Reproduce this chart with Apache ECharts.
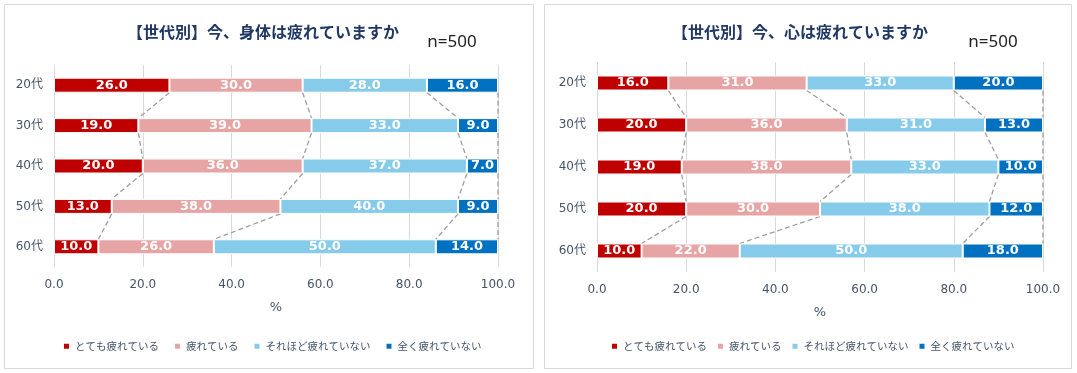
<!DOCTYPE html>
<html>
<head>
<meta charset="utf-8">
<script src="https://cdn.jsdelivr.net/npm/echarts@6/dist/echarts.min.js"></script>
<style>
html,body{margin:0;padding:0;background:#fff;}
#chart{width:1077px;height:373px;}
</style>
</head>
<body>
<div id="chart"></div>
<script>
// ---- data ----
var categories = ['20代', '30代', '40代', '50代', '60代'];
var seriesNames = ['とても疲れている', '疲れている', 'それほど疲れていない', '全く疲れていない'];

var bodyVeryTired = [26, 19, 20, 13, 10];
var bodyTired = [30, 39, 36, 38, 26];
var bodyNotSo = [28, 33, 37, 40, 50];
var bodyNotAtAll = [16, 9, 7, 9, 14];

var mindVeryTired = [16, 20, 19, 20, 10];
var mindTired = [31, 36, 38, 30, 22];
var mindNotSo = [33, 31, 33, 38, 50];
var mindNotAtAll = [20, 13, 10, 12, 18];

var titleBody = '【世代別】今、身体は疲れていますか';
var titleMind = '【世代別】今、心は疲れていますか';
var sampleText = 'n=500';
var axisName = '%';

// ---- styles ----
var colors = ['#C00000', '#E6A4A4', '#87CBEB', '#0070C0'];
var textColor = '#44546A';
var BAR_H = 15;

function buildConnectors(sets) {
  var out = [];
  for (var i = 0; i < categories.length - 1; i++) {
    var c1 = 0, c2 = 0;
    for (var k = 0; k < sets.length; k++) {
      c1 += sets[k][i];
      c2 += sets[k][i + 1];
      out.push([c1, i, c2]);
    }
  }
  return out;
}

function connectorSeries(gridIdx, sets) {
  return {
    type: 'custom',
    xAxisIndex: gridIdx,
    yAxisIndex: gridIdx,
    silent: true,
    z: 1,
    encode: { x: 0, y: 1 },
    data: buildConnectors(sets),
    renderItem: function (params, api) {
      var idx = api.value(1);
      var p1 = api.coord([api.value(0), idx]);
      var p2 = api.coord([api.value(2), idx + 1]);
      return {
        type: 'line',
        shape: { x1: p1[0], y1: p1[1] + BAR_H / 2, x2: p2[0], y2: p2[1] - BAR_H / 2 },
        style: { stroke: '#9E9E9E', lineWidth: 1.3, lineDash: [5, 3] }
      };
    }
  };
}

function barSeries(gridIdx, sets) {
  return sets.map(function (arr, k) {
    return {
      name: seriesNames[k],
      type: 'bar',
      stack: 'g' + gridIdx,
      xAxisIndex: gridIdx,
      yAxisIndex: gridIdx,
      barWidth: BAR_H,
      z: 2,
      itemStyle: { color: colors[k], borderColor: '#ffffff', borderWidth: 1 },
      label: {
        show: true,
        position: 'inside',
        color: '#ffffff',
        fontFamily: 'DejaVu Sans',
        fontWeight: 'bold',
        fontSize: 13,
        formatter: function (p) { return Number(p.value).toFixed(1); }
      },
      emphasis: { disabled: true },
      data: arr
    };
  });
}

function xAxisDef(gridIdx) {
  return {
    type: 'value',
    gridIndex: gridIdx,
    min: 0, max: 100, interval: 20,
    name: axisName,
    nameLocation: 'middle',
    nameGap: 34,
    nameTextStyle: { color: textColor, fontSize: 13, fontFamily: 'DejaVu Sans' },
    axisLine: { show: false },
    axisTick: { show: false },
    axisLabel: {
      color: textColor, fontSize: 12, fontFamily: 'DejaVu Sans', margin: 12,
      formatter: function (v) { return v.toFixed(1); }
    },
    splitLine: { show: true, lineStyle: { color: '#D9D9D9', width: 1 } }
  };
}

function yAxisDef(gridIdx) {
  return {
    type: 'category',
    gridIndex: gridIdx,
    inverse: true,
    data: categories,
    axisLine: { show: false },
    axisTick: { show: false },
    axisLabel: { color: textColor, fontSize: 12, fontFamily: 'DejaVu Sans, Noto Sans CJK JP', margin: 11 }
  };
}

function legendDef(left, gap) {
  return {
    data: seriesNames,
    left: left,
    top: 341,
    padding: 0,
    icon: 'rect',
    itemWidth: 7,
    itemHeight: 7,
    itemGap: gap,
    selectedMode: false,
    textStyle: { color: textColor, fontSize: 10.5, fontFamily: 'Noto Sans CJK JP' }
  };
}

var bodySets = [bodyVeryTired, bodyTired, bodyNotSo, bodyNotAtAll];
var mindSets = [mindVeryTired, mindTired, mindNotSo, mindNotAtAll];

var chart = echarts.init(document.getElementById('chart'), null, { renderer: 'canvas' });
chart.setOption({
  animation: false,
  backgroundColor: '#ffffff',
  graphic: [
    { type: 'rect', shape: { x: 4.5, y: 4.5, width: 529, height: 364 }, style: { fill: 'none', stroke: '#D9D9D9', lineWidth: 1 }, z: 0, silent: true },
    { type: 'rect', shape: { x: 544.5, y: 4.5, width: 527, height: 364 }, style: { fill: 'none', stroke: '#D9D9D9', lineWidth: 1 }, z: 0, silent: true },
    { type: 'text', x: 263, y: 32, style: { text: titleBody, textAlign: 'center', textVerticalAlign: 'middle', fill: '#1F3864', font: 'bold 16px "Noto Sans CJK JP"' }, silent: true },
    { type: 'text', x: 800, y: 32, style: { text: titleMind, textAlign: 'center', textVerticalAlign: 'middle', fill: '#1F3864', font: 'bold 16px "Noto Sans CJK JP"' }, silent: true },
    { type: 'text', x: 452, y: 42, style: { text: sampleText, textAlign: 'center', textVerticalAlign: 'middle', fill: '#222222', font: '17px "Noto Sans"' }, silent: true },
    { type: 'text', x: 993, y: 42, style: { text: sampleText, textAlign: 'center', textVerticalAlign: 'middle', fill: '#222222', font: '17px "Noto Sans"' }, silent: true }
  ],
  legend: [legendDef(62, 14), legendDef(610, 9)],
  grid: [
    { left: 54, right: 579, top: 65, height: 202 },
    { left: 597, right: 34, top: 62, height: 210 }
  ],
  xAxis: [xAxisDef(0), xAxisDef(1)],
  yAxis: [yAxisDef(0), yAxisDef(1)],
  series: [].concat(
    barSeries(0, bodySets),
    [connectorSeries(0, bodySets)],
    barSeries(1, mindSets),
    [connectorSeries(1, mindSets)]
  )
});
</script>
</body>
</html>
